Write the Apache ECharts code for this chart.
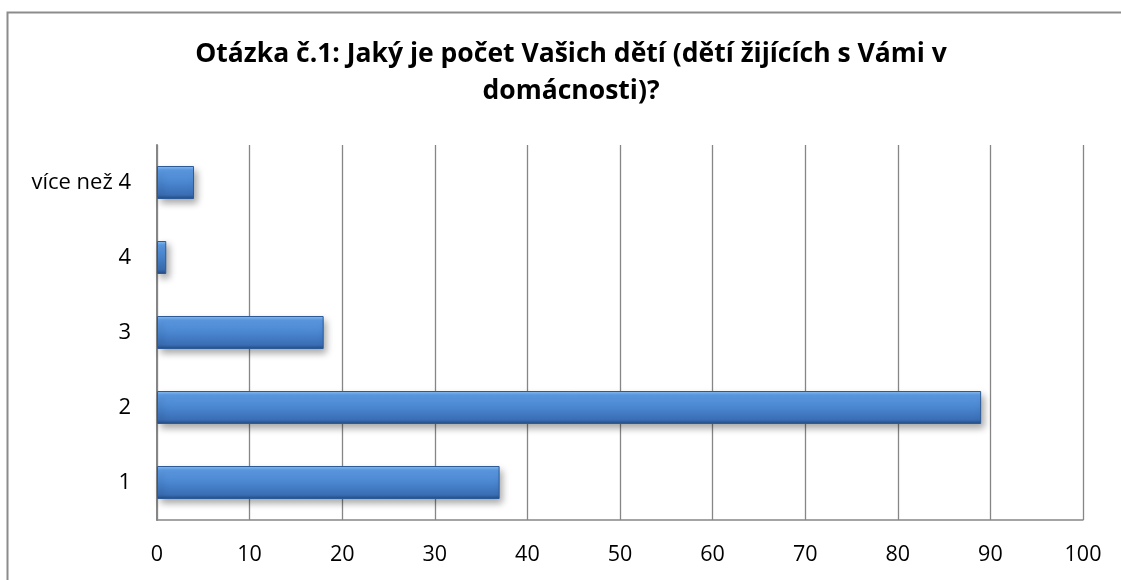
<!DOCTYPE html>
<html>
<head>
<meta charset="utf-8">
<script src="https://cdn.jsdelivr.net/npm/echarts@6/dist/echarts.min.js"></script>
<style>
  html, body { margin: 0; padding: 0; background: #fff; }
  #main { width: 1121px; height: 580px; }
</style>
</head>
<body>
<div id="main"></div>
<script>
// data
const categories = ['1', '2', '3', '4', 'více než 4']
const values = [37, 89, 18, 1, 4]
const xTicks = [0, 10, 20, 30, 40, 50, 60, 70, 80, 90, 100]

const titleText = 'Otázka č.1: Jaký je počet Vašich dětí (dětí žijících s Vámi v\ndomácnosti)?'

let chart = echarts.init(document.getElementById('main'))

// bar fill, light top edge -> darker bottom (bevelled look)
let barFill = new echarts.graphic.LinearGradient(0, 0, 0, 1, [
    { offset: 0, color: '#8fc3f7' },
    { offset: 0.12, color: '#5d9ce6' },
    { offset: 0.5, color: '#4a86d0' },
    { offset: 0.88, color: '#3a6db4' },
    { offset: 1, color: '#23497f' },
])

let option = {
    backgroundColor: '#ffffff',
    animation: false,
    title: {
        text: titleText,
        // centred a bit right of the middle, like the original
        left: 566,
        textAlign: 'center',
        top: 31,
        textStyle: {
            fontFamily: 'Open Sans',
            fontWeight: 'bold',
            fontSize: 26.5,
            color: '#000000',
            lineHeight: 37,
        },
    },
    graphic: [{
        type: 'rect',
        shape: { x: 7.5, y: 12.5, width: 1300, height: 700 },
        style: { fill: 'none', stroke: '#8c8c8c', lineWidth: 2 },
        silent: true,
    }],
    grid: {
        left: 157,
        right: 38,
        top: 145,
        bottom: 60,
    },
    xAxis: {
        type: 'value',
        min: xTicks[0],
        max: xTicks[xTicks.length - 1],
        interval: 10,
        axisLine: { show: true, lineStyle: { color: '#868686', width: 1.5 } },
        axisTick: { show: false },
        splitLine: { show: true, lineStyle: { color: '#868686', width: 1.3 } },
        axisLabel: {
            margin: 24,
            fontFamily: 'Open Sans',
            fontSize: 21.5,
            color: '#000000',
        },
    },
    yAxis: {
        type: 'category',
        data: categories,
        axisLine: { show: true, lineStyle: { color: '#868686', width: 2 } },
        axisTick: { show: false },
        axisLabel: {
            margin: 26,
            fontFamily: 'Open Sans',
            fontSize: 22,
            color: '#000000',
        },
    },
    series: [{
        type: 'bar',
        data: values,
        barWidth: 33,
        itemStyle: {
            color: barFill,
            borderColor: '#2c5a96',
            borderWidth: 1,
            shadowColor: 'rgba(0,0,0,0.35)',
            shadowBlur: 7,
            shadowOffsetX: 3,
            shadowOffsetY: 4,
        },
    }],
}

chart.setOption(option)
</script>
</body>
</html>
